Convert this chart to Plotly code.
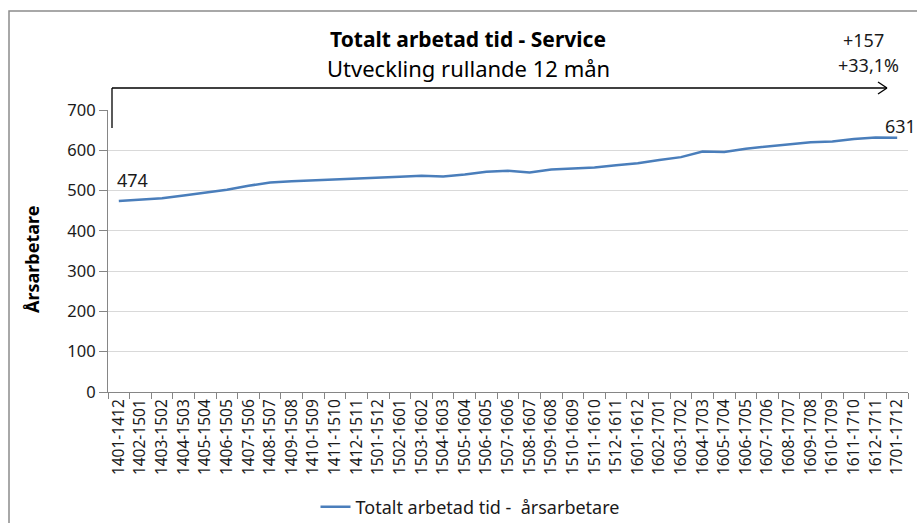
import plotly.graph_objects as go

# Rolling 12-month periods (YYMM-YYMM)
periods = [
    "1401-1412", "1402-1501", "1403-1502", "1404-1503", "1405-1504", "1406-1505",
    "1407-1506", "1408-1507", "1409-1508", "1410-1509", "1411-1510", "1412-1511",
    "1501-1512", "1502-1601", "1503-1602", "1504-1603", "1505-1604", "1506-1605",
    "1507-1606", "1508-1607", "1509-1608", "1510-1609", "1511-1610", "1512-1611",
    "1601-1612", "1602-1701", "1603-1702", "1604-1703", "1605-1704", "1606-1705",
    "1607-1706", "1608-1707", "1609-1708", "1610-1709", "1611-1710", "1612-1711",
    "1701-1712",
]

# Total worked time, full-time equivalents (årsarbetare)
arsarbetare = [
    474, 477, 481, 488, 495, 502, 512, 520, 523, 525, 527, 530,
    532, 534, 537, 535, 540, 547, 549, 545, 552, 555, 557, 563,
    568, 576, 583, 597, 596, 604, 609, 615, 620, 622, 628, 632,
    631,
]

y_ticks = [0, 100, 200, 300, 400, 500, 600, 700]

change_abs = "+157"
change_pct = "+33,1%"

FONT = "Noto Sans"
TEXT = "#1a1a1a"

W, H = 917, 523
L, R, T, B = 108, 9, 110, 131
PW, PH = W - L - R, H - T - B


def px(x):
    return (x - L) / PW


def py(y):
    return (H - B - y) / PH


fig = go.Figure()
fig.add_trace(go.Scatter(
    x=periods, y=arsarbetare, mode="lines",
    name="Totalt arbetad tid -  årsarbetare",
    line=dict(color="#4a7ebb", width=2.5),
))

# Value labels at the first and last point
fig.add_annotation(x=periods[0], y=arsarbetare[0], text=str(arsarbetare[0]),
                   showarrow=False, xshift=14, yshift=21,
                   font=dict(family=FONT, size=18, color=TEXT))
fig.add_annotation(x=periods[-1], y=arsarbetare[-1], text=str(arsarbetare[-1]),
                   showarrow=False, xshift=3, yshift=12,
                   font=dict(family=FONT, size=18, color=TEXT))


def paper_text(x, y, text, size, color="#000", angle=0):
    fig.add_annotation(xref="paper", yref="paper", x=px(x), y=py(y),
                       xanchor="center", yanchor="middle",
                       text=text, showarrow=False, textangle=angle,
                       font=dict(family=FONT, size=size, color=color))


# Titles and change summary
paper_text(468, 39, "<b>Totalt arbetad tid - Service</b>", 21)
paper_text(468, 68, "Utveckling rullande 12 mån", 22)
paper_text(863, 40, change_abs, 18, TEXT)
paper_text(868, 65, change_pct, 18, TEXT)
paper_text(32, 259, "<b>Årsarbetare</b>", 18, angle=-90)

# Development bracket arrow
arrow = dict(type="line", xref="paper", yref="paper",
             line=dict(color="#000", width=1.3))
fig.add_shape(**arrow, x0=px(112), y0=py(128), x1=px(112), y1=py(88))
fig.add_shape(**arrow, x0=px(112), y0=py(88), x1=px(887), y1=py(88))
fig.add_shape(**arrow, x0=px(878), y0=py(82), x1=px(887), y1=py(88))
fig.add_shape(**arrow, x0=px(878), y0=py(94), x1=px(887), y1=py(88))

# Chart frame
fig.add_shape(type="rect", xref="paper", yref="paper",
              x0=px(9), y0=py(11), x1=px(940), y1=py(560),
              line=dict(color="#8c8c8c", width=1.5), layer="below")

fig.update_layout(
    width=W, height=H,
    margin=dict(l=L, r=R, t=T, b=B, autoexpand=False),
    paper_bgcolor="white", plot_bgcolor="white",
    font=dict(family=FONT, color=TEXT),
    showlegend=True,
    legend=dict(orientation="h", x=px(470), xanchor="center",
                y=py(507), yanchor="middle",
                font=dict(family=FONT, size=18, color=TEXT)),
)

fig.update_xaxes(
    type="category", range=[-0.5, len(periods) - 0.5],
    tickangle=-90, tickson="boundaries",
    ticks="outside", ticklen=6, tickcolor="#868686",
    showline=True, linecolor="#868686", linewidth=1,
    showgrid=False, tickfont=dict(family=FONT, size=15.5, color=TEXT),
)
fig.update_yaxes(
    range=[0, 700], tickvals=y_ticks,
    ticks="outside", ticklen=8, tickcolor="#868686",
    showline=True, linecolor="#868686", linewidth=1,
    showgrid=True, gridcolor="#d9d9d9", gridwidth=1, zeroline=False,
    tickfont=dict(family=FONT, size=16.5, color=TEXT),
)

fig.write_html("out.html")
